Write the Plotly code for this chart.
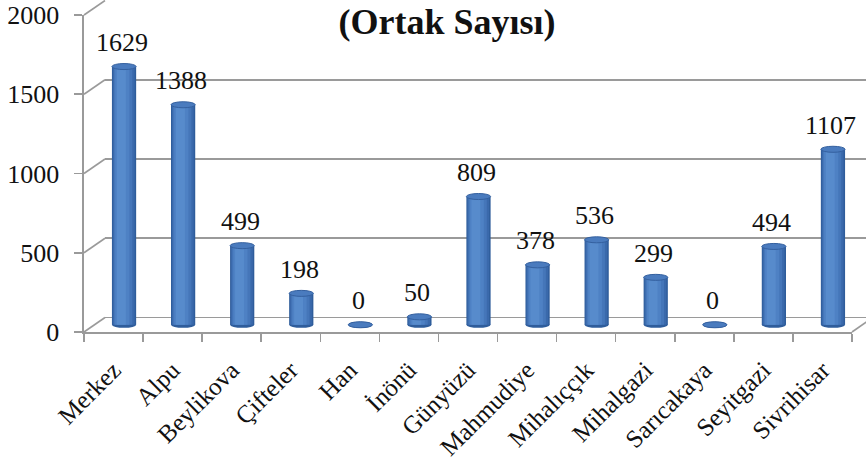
import plotly.graph_objects as go

categories = ["Merkez", "Alpu", "Beylikova", "Çifteler", "Han", "İnönü", "Günyüzü",
              "Mahmudiye", "Mihalıççık", "Mihalgazi", "Sarıcakaya", "Seyitgazi", "Sivrihisar"]
values = [1629, 1388, 499, 198, 0, 50, 809, 378, 536, 299, 0, 494, 1107]
y_ticks = [0, 500, 1000, 1500, 2000]
title_text = "(Ortak Sayısı)"

W, H = 866, 461
K = 317 / 2000  # px per unit
FONT = "Liberation Serif, Times New Roman, serif"
GRID = "#9a9a9a"


def fx(px):
    return px / W


def fy(py):
    return 1 - py / H


def ydom(r0, r1, zero_py):
    return [fy(zero_py - r0 * K), fy(zero_py - r1 * K)]


FRONT_X0, FRONT_X1, FRONT_Z = 84, 852, 332
BACK_X0, BACK_Z = 105, 317.5
BAR_X0, BAR_X1, BAR_Z = 94.5, 862.5, 324.75

back_range = [-10, BACK_Z / K]
bar_range = [-60, 2040]
front_range = [0, 2000]

fig = go.Figure()

# back wall (gridlines) subplot x/y
fig.add_trace(go.Scatter(x=categories, y=values, mode="markers", marker=dict(opacity=0, size=1),
                         hoverinfo="skip", showlegend=False, xaxis="x", yaxis="y"))

# cylinder-like bars on x2/y2
layers = [(-0.205, 0.41, "#2F5D9B"), (-0.19, 0.37, "#3A69AB"), (-0.17, 0.31, "#4576B9"),
          (-0.15, 0.24, "#4E81C4"), (-0.12, 0.15, "#578BCC")]
for off, wd, col in layers:
    fig.add_trace(go.Bar(x=categories, y=values, offset=off, width=wd,
                         marker=dict(color=col, line=dict(width=0)),
                         hoverinfo="skip", showlegend=False, xaxis="x2", yaxis="y2"))

# front axis subplot x3/y3
fig.add_trace(go.Scatter(x=categories, y=values, mode="markers", marker=dict(opacity=0, size=1),
                         hoverinfo="skip", showlegend=False, xaxis="x3", yaxis="y3"))

shapes = []
cap = 19  # half-height of ellipse in data units
for i, v in enumerate(values):
    shapes.append(dict(type="circle", xref="x2", yref="y2", x0=i - 0.205, x1=i + 0.205,
                       y0=-cap, y1=cap, fillcolor="#2F5D9B", line=dict(width=0), layer="below"))
    shapes.append(dict(type="circle", xref="x2", yref="y2", x0=i - 0.205, x1=i + 0.205,
                       y0=v - cap, y1=v + cap, fillcolor="#4A7BBE",
                       line=dict(color="#34609F", width=1), layer="above"))

# side wall diagonals
for v in y_ticks:
    shapes.append(dict(type="line", xref="paper", yref="paper",
                       x0=fx(FRONT_X0), y0=fy(FRONT_Z - v * K),
                       x1=fx(BACK_X0), y1=fy(BACK_Z - v * K),
                       line=dict(color=GRID, width=1.6)))
# right floor diagonal
shapes.append(dict(type="line", xref="paper", yref="paper",
                   x0=fx(FRONT_X1), y0=fy(FRONT_Z), x1=fx(FRONT_X1 + 21), y1=fy(BACK_Z),
                   line=dict(color=GRID, width=1.6)))

annotations = []
for c, v in zip(categories, values):
    annotations.append(dict(x=c, y=v, xref="x2", yref="y2", text=str(v), showarrow=False,
                            yshift=24, xshift=-2, yanchor="middle",
                            font=dict(family=FONT, size=26, color="#111111")))

fig.update_layout(
    template="none",
    width=W, height=H,
    margin=dict(l=0, r=0, t=0, b=0, pad=0),
    paper_bgcolor="white", plot_bgcolor="rgba(0,0,0,0)",
    barmode="overlay", showlegend=False,
    title=dict(text="<b>" + title_text + "</b>", x=fx(447), y=fy(21), xanchor="center",
               yanchor="middle", automargin=False,
               font=dict(family=FONT, size=36, color="#111111")),
    shapes=shapes, annotations=annotations,
    xaxis=dict(domain=[fx(BACK_X0), 1], visible=False, range=[-0.5, 12.5], automargin=False),
    yaxis=dict(domain=ydom(*back_range, BACK_Z), range=back_range, tickvals=y_ticks,
               showgrid=True, gridcolor=GRID, gridwidth=1.6, zeroline=False, automargin=False,
               showticklabels=False, showline=False, ticks=""),
    xaxis2=dict(domain=[fx(BAR_X0), fx(BAR_X1)], visible=False, range=[-0.5, 12.5],
                type="category", categoryarray=categories, anchor="y2", automargin=False),
    yaxis2=dict(domain=ydom(*bar_range, BAR_Z), range=bar_range, visible=False, anchor="x2",
                automargin=False),
    xaxis3=dict(domain=[fx(FRONT_X0), fx(FRONT_X1)], range=[-0.5, 12.5], type="category",
                categoryarray=categories, tickson="boundaries", ticks="outside", ticklen=8,
                tickcolor=GRID, tickwidth=1.6, showline=True, linecolor=GRID, linewidth=1.6,
                showgrid=False, tickangle=-45, anchor="y3", automargin=False,
                ticklabelstandoff=12,
                tickfont=dict(family=FONT, size=25, color="#111111")),
    yaxis3=dict(domain=ydom(*front_range, FRONT_Z), range=front_range, tickvals=y_ticks,
                ticks="outside", ticklen=8, tickcolor=GRID, tickwidth=1.6, showline=True,
                linecolor=GRID, linewidth=1.6, showgrid=False, zeroline=False,
                ticklabelstandoff=10, ticklabeloverflow="allow", anchor="x3", automargin=False,
                tickfont=dict(family=FONT, size=26, color="#111111")),
)

fig.write_html("out.html", config={"displayModeBar": False, "staticPlot": True},
               post_script="document.body.style.margin='0';document.body.style.overflow='hidden';")
